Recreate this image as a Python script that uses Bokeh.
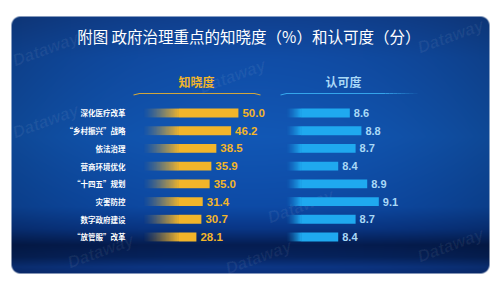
import numpy as np
from bokeh.plotting import figure
from bokeh.models import Range1d
from bokeh.core.properties import value
from bokeh.embed import file_html
from bokeh.resources import INLINE

# ---- data ----
categories = ["深化医疗改革", "“乡村振兴”战略", "依法治理", "营商环境优化",
              "“十四五”规划", "灾害防控", "数字政府建设", "“放管服”改革"]
awareness = [50.0, 46.2, 38.5, 35.9, 35.0, 31.4, 30.7, 28.1]   # 知晓度 (%)
approval = [8.6, 8.8, 8.7, 8.4, 8.9, 9.1, 8.7, 8.4]             # 认可度 (分)

title = "附图  政府治理重点的知晓度（%）和认可度（分）"
head_left = "知晓度"
head_right = "认可度"

W, H = 500, 281
YELLOW = "#f2b52a"
BLUE = "#1fa9ef"
LIGHT_BLUE = "#a9d9f7"
CJK = "Noto Sans CJK SC"
NUM = "Liberation Sans"

p = figure(width=W, height=H, output_backend="svg", toolbar_location=None,
           x_range=Range1d(0, W), y_range=Range1d(0, H),
           x_axis_location=None, y_axis_location=None, min_border=0)
p.grid.visible = False
p.outline_line_color = None
p.background_fill_color = "white"
p.border_fill_color = "white"

# value scales for the two bar groups and the row positions
p.extra_x_ranges = {
    "aware": Range1d(-74.04, 186.65),
    "approve": Range1d(2.5776, 11.198),
}
p.extra_y_ranges = {"rows": Range1d(9.514, -6.352)}

# ---- panel background: vertical blue gradient with rounded corners ----
px0, py0, pw, ph = 11, 8, 478, 257
stops_y = [0, 40, 120, 190, 212, 228, 240, 250, 257]
stops_c = np.array([
    [16, 62, 138], [16, 74, 160], [17, 84, 174], [13, 72, 160],
    [9, 52, 128], [5, 28, 78], [6, 34, 90], [12, 52, 128], [10, 46, 118]
], dtype=float)
yy = np.arange(ph)
col = np.stack([np.interp(yy, stops_y, stops_c[:, k]) for k in range(3)], axis=1)
xx = (np.arange(pw) + 0.5) / pw
hfac = 0.86 + 0.18 * (1 - ((xx - 0.5) * 2) ** 2)
rgb = col[:, None, :] * hfac[None, :, None]
rgba = np.zeros((ph, pw, 4), dtype=np.uint8)
rgba[..., :3] = np.clip(rgb, 0, 255).astype(np.uint8)
# rounded-corner alpha mask
r = 9.0
gx, gy = np.meshgrid(np.arange(pw) + 0.5, np.arange(ph) + 0.5)
cx = np.clip(gx, r, pw - r)
cy = np.clip(gy, r, ph - r)
dist = np.sqrt((gx - cx) ** 2 + (gy - cy) ** 2)
alpha = np.clip(r + 0.5 - dist, 0, 1)
rgba[..., 3] = (alpha * 255).astype(np.uint8)
img = np.flipud(rgba).copy().view(np.uint32).reshape(ph, pw)
p.image_rgba(image=[img], x=px0, y=py0, dw=pw, dh=ph)

# faint brand watermarks
wm_x = [45, 232, 450, 45, 300, 100, 258, 450]
wm_y = [232, 205, 245, 160, 75, 30, 24, 36]
p.text(x=wm_x, y=wm_y, text=["Dataway"] * len(wm_x), angle=0.35,
       text_font=value(NUM), text_font_style="bold italic", text_font_size="17px",
       text_color="white", text_alpha=0.06, text_align="center", text_baseline="middle")

# ---- title and column headers ----
p.text(x=[250], y=[H - 35], text=[title], text_font=value(CJK),
       text_font_size="15.5px", text_color="white", text_align="center",
       text_baseline="middle")
p.text(x=[196], y=[H - 81], text=[head_left], text_font=value(CJK),
       text_font_style="bold", text_font_size="12px", text_color=YELLOW,
       text_align="center", text_baseline="middle")
p.text(x=[343], y=[H - 81], text=[head_right], text_font=value(CJK),
       text_font_style="bold", text_font_size="12px", text_color=LIGHT_BLUE,
       text_align="center", text_baseline="middle")

# header underlines
p.line(x=[133, 139, 254, 260], y=[H - 94.5, H - 93, H - 93, H - 94.5],
       line_color=YELLOW, line_width=1.2, line_alpha=0.85)
p.line(x=[280, 286, 385], y=[H - 94.5, H - 93, H - 93],
       line_color="#39aef2", line_width=1.2, line_alpha=0.9)
for k in range(8):
    p.line(x=[385 + 4 * k, 389 + 4 * k], y=[H - 93, H - 93], line_color="#39aef2",
           line_width=1.2, line_alpha=0.9 * (1 - (k + 1) / 9))

rows = list(range(len(categories)))
BAR_H = 0.5


def fade_strip(color, n=64):
    """A 1-row RGBA strip whose alpha ramps up from left to right."""
    c = color.lstrip("#")
    rr, gg, bb = int(c[0:2], 16), int(c[2:4], 16), int(c[4:6], 16)
    a = np.zeros((2, n, 4), dtype=np.uint8)
    a[..., 0], a[..., 1], a[..., 2] = rr, gg, bb
    a[..., 3] = (255 * ((np.arange(n) + 0.5) / n) ** 1.3).astype(np.uint8)
    return a.view(np.uint32).reshape(2, n)


def faded_bars(base, fade_w, values, color, xr):
    """Bars whose left end fades into the background."""
    strip = fade_strip(color)
    # the row axis runs downward, so the image anchor is the bar's upper edge
    p.image_rgba(image=[strip] * len(rows), x=[base] * len(rows),
                 y=[i - BAR_H / 2 for i in rows], dw=[fade_w] * len(rows),
                 dh=[BAR_H] * len(rows), x_range_name=xr, y_range_name="rows")
    p.hbar(y=rows, left=base + fade_w, right=values, height=BAR_H,
           fill_color=color, line_color=None, x_range_name=xr, y_range_name="rows")


# 知晓度 bars start at 0, 认可度 bars start at 7.5
faded_bars(0.0, 19.0, awareness, YELLOW, "aware")
faded_bars(7.5, 0.26, approval, BLUE, "approve")

# category labels
p.text(x=[125] * len(rows), y=rows, text=categories, y_range_name="rows",
       text_font=value(CJK), text_font_style="bold", text_font_size="7.5px",
       text_color="white", text_align="right", text_baseline="middle")

# value labels
p.text(x=awareness, y=rows, text=[f"{v:.1f}" for v in awareness],
       x_range_name="aware", y_range_name="rows", x_offset=4,
       text_font=value(NUM), text_font_style="bold", text_font_size="11.5px",
       text_color=YELLOW, text_align="left", text_baseline="middle")
p.text(x=approval, y=rows, text=[f"{v:.1f}" for v in approval],
       x_range_name="approve", y_range_name="rows", x_offset=4,
       text_font=value(NUM), text_font_style="bold", text_font_size="11px",
       text_color=LIGHT_BLUE, text_align="left", text_baseline="middle")

open("out.html", "w").write(file_html(p, INLINE))
